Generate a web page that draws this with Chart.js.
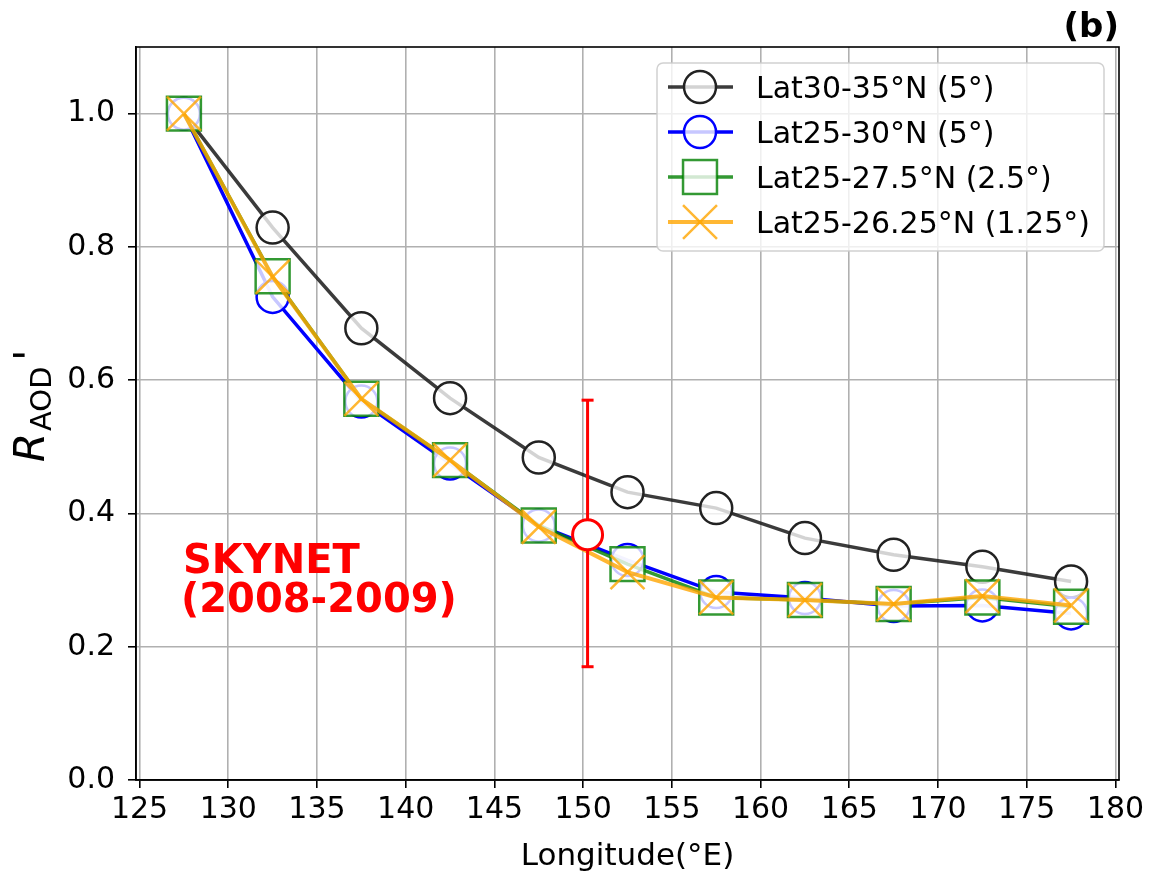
<!DOCTYPE html>
<html>
<head>
<meta charset="utf-8">
<script src="https://cdn.jsdelivr.net/npm/chart.js@4.4.1/dist/chart.umd.min.js"></script>
<style>
  html, body { margin: 0; padding: 0; background: #fff; }
  #wrap { width: 1159px; height: 877px; }
</style>
</head>
<body>
<div id="wrap"><canvas id="c" width="1159" height="877"></canvas></div>
<script>
// ---- data ----
const longitudes = [127.5, 132.5, 137.5, 142.5, 147.5, 152.5, 157.5, 162.5, 167.5, 172.5, 177.5];
const lat30_35   = [1.000, 0.829, 0.678, 0.573, 0.484, 0.432, 0.408, 0.363, 0.338, 0.320, 0.298];
const lat25_30   = [1.000, 0.725, 0.568, 0.475, 0.382, 0.330, 0.282, 0.273, 0.261, 0.262, 0.250];
const lat25_275  = [1.000, 0.756, 0.572, 0.480, 0.382, 0.324, 0.274, 0.270, 0.264, 0.274, 0.260];
const lat25_2625 = [1.000, 0.755, 0.572, 0.480, 0.380, 0.312, 0.274, 0.270, 0.264, 0.276, 0.262];
const seriesLabels = ['Lat30-35°N (5°)', 'Lat25-30°N (5°)', 'Lat25-27.5°N (2.5°)', 'Lat25-26.25°N (1.25°)'];
const skynetX = 150.25;
const skynetY = 0.368;
const skynetRange = [0.170, 0.570];
const skynetText = ['SKYNET', '(2008-2009)'];
const xTicks = [125, 130, 135, 140, 145, 150, 155, 160, 165, 170, 175, 180];
const yTicks = [0.0, 0.2, 0.4, 0.6, 0.8, 1.0];
const xLabel = 'Longitude(°E)';
const panelLabel = '(b)';

const FONT = '"DejaVu Sans", sans-serif';
const pts = arr => longitudes.map((x, i) => ({ x: x, y: arr[i] }));

const styles = [
  { line: 'rgba(25,25,25,0.85)', edge: '#222', shape: 'circle', r: 16, lw: 3.5, ew: 2.5 },
  { line: '#0000ff', edge: '#0000ff', shape: 'circle', r: 16, lw: 3.5, ew: 2.5 },
  { line: 'rgba(0,128,0,0.8)', edge: 'rgba(0,128,0,0.8)', shape: 'rect', r: 24, lw: 3.5, ew: 2.5 },
  { line: 'rgba(255,165,0,0.8)', edge: 'rgba(255,165,0,0.8)', shape: 'crossRot', r: 24, lw: 4, ew: 2.5 }
];
const seriesData = [lat30_35, lat25_30, lat25_275, lat25_2625];

const datasets = seriesData.map((arr, k) => ({
  label: seriesLabels[k],
  data: pts(arr),
  showLine: true,
  borderColor: styles[k].line,
  borderWidth: styles[k].lw,
  backgroundColor: 'rgba(255,255,255,0.8)',
  pointStyle: styles[k].shape,
  pointRadius: styles[k].r,
  pointBorderColor: styles[k].edge,
  pointBorderWidth: styles[k].ew,
  pointBackgroundColor: 'rgba(255,255,255,0.78)',
  tension: 0,
  order: 4 - k + 1
}));

// error bar (vertical line with caps)
datasets.push({
  label: 'SKYNET range',
  data: [{ x: skynetX, y: skynetRange[0] }, { x: skynetX, y: skynetRange[1] }],
  showLine: true,
  borderColor: '#ff0000',
  borderWidth: 3,
  pointStyle: 'line',
  pointRadius: 6,
  pointBorderColor: '#ff0000',
  pointBorderWidth: 3,
  order: 1
});
// SKYNET point
datasets.push({
  label: 'SKYNET',
  data: [{ x: skynetX, y: skynetY }],
  showLine: false,
  pointStyle: 'circle',
  pointRadius: 15,
  pointBorderColor: '#ff0000',
  pointBorderWidth: 3,
  pointBackgroundColor: '#ffffff',
  order: 0
});

const framePlugin = {
  id: 'frame',
  afterDatasetsDraw(chart) {
    const { ctx, chartArea: a } = chart;
    ctx.save();
    // spines
    ctx.strokeStyle = '#000';
    ctx.lineWidth = 1.6;
    ctx.strokeRect(a.left, a.top, a.right - a.left, a.bottom - a.top);

    // SKYNET text
    ctx.fillStyle = '#ff0000';
    ctx.font = 'bold 40px ' + FONT;
    ctx.textBaseline = 'alphabetic';
    ctx.textAlign = 'left';
    ctx.fillText(skynetText[0], 183, 573);
    ctx.fillText(skynetText[1], 181, 612);

    // legend
    const lx = 657, ly = 63, lw = 447, lh = 188, rr = 6;
    ctx.beginPath();
    ctx.moveTo(lx + rr, ly);
    ctx.arcTo(lx + lw, ly, lx + lw, ly + lh, rr);
    ctx.arcTo(lx + lw, ly + lh, lx, ly + lh, rr);
    ctx.arcTo(lx, ly + lh, lx, ly, rr);
    ctx.arcTo(lx, ly, lx + lw, ly, rr);
    ctx.closePath();
    ctx.fillStyle = 'rgba(255,255,255,0.8)';
    ctx.fill();
    ctx.strokeStyle = 'rgba(204,204,204,0.9)';
    ctx.lineWidth = 1.5;
    ctx.stroke();

    for (let k = 0; k < 4; k++) {
      const s = styles[k];
      const cy = 87 + k * 45;
      ctx.strokeStyle = s.line;
      ctx.lineWidth = s.lw;
      ctx.beginPath();
      ctx.moveTo(668, cy);
      ctx.lineTo(733, cy);
      ctx.stroke();
      const cx = 700;
      ctx.strokeStyle = s.edge;
      ctx.lineWidth = s.ew;
      ctx.fillStyle = 'rgba(255,255,255,0.78)';
      if (s.shape === 'circle') {
        ctx.beginPath();
        ctx.arc(cx, cy, s.r, 0, Math.PI * 2);
        ctx.fill();
        ctx.stroke();
      } else if (s.shape === 'rect') {
        const h = s.r * Math.SQRT1_2;
        ctx.fillRect(cx - h, cy - h, 2 * h, 2 * h);
        ctx.strokeRect(cx - h, cy - h, 2 * h, 2 * h);
      } else {
        const h = s.r * Math.SQRT1_2;
        ctx.beginPath();
        ctx.moveTo(cx - h, cy - h); ctx.lineTo(cx + h, cy + h);
        ctx.moveTo(cx - h, cy + h); ctx.lineTo(cx + h, cy - h);
        ctx.stroke();
      }
      ctx.fillStyle = '#000';
      ctx.font = '30px ' + FONT;
      ctx.textAlign = 'left';
      ctx.textBaseline = 'alphabetic';
      ctx.fillText(seriesLabels[k], 756, cy + 11);
    }

    // panel label
    ctx.fillStyle = '#000';
    ctx.font = 'bold 34px ' + FONT;
    ctx.textAlign = 'right';
    ctx.fillText(panelLabel, 1119, 37);

    // y-axis title: R_AOD'
    ctx.translate(44, 462);
    ctx.rotate(-Math.PI / 2);
    ctx.textAlign = 'left';
    ctx.font = 'italic 42px ' + FONT;
    ctx.fillText('R', 0, 0);
    ctx.font = '29px ' + FONT;
    ctx.fillText('AOD', 31, 7);
    ctx.font = '42px ' + FONT;
    ctx.fillText("'", 101, 0);
    ctx.restore();
  }
};

new Chart(document.getElementById('c'), {
  type: 'scatter',
  data: { datasets },
  options: {
    responsive: false,
    animation: false,
    events: [],
    layout: { padding: { left: 0, top: 47, right: 40, bottom: 0 } },
    plugins: { legend: { display: false }, tooltip: { enabled: false }, title: { display: false } },
    scales: {
      x: {
        type: 'linear',
        min: 124.8,
        max: 180.2,
        afterBuildTicks: s => { s.ticks = xTicks.map(v => ({ value: v })); },
        afterFit: s => { s.height = 97; },
        grid: { color: '#b0b0b0', lineWidth: 1.6, drawTicks: true, tickLength: 8, tickColor: '#000', tickWidth: 1.6 },
        border: { display: true, color: '#000', width: 1.6 },
        ticks: { color: '#000', font: { family: FONT, size: 30 }, padding: 4, maxRotation: 0, autoSkip: false },
        title: { display: true, text: xLabel, color: '#000', font: { family: FONT, size: 31 }, padding: { top: 0, bottom: 1 } }
      },
      y: {
        type: 'linear',
        min: 0,
        max: 1.1,
        afterBuildTicks: s => { s.ticks = yTicks.map(v => ({ value: v })); },
        afterFit: s => { s.width = 136; },
        grid: { color: '#b0b0b0', lineWidth: 1.6, drawTicks: true, tickLength: 8, tickColor: '#000', tickWidth: 1.6 },
        border: { display: true, color: '#000', width: 1.6 },
        ticks: { color: '#000', font: { family: FONT, size: 30 }, padding: 13, callback: v => Number(v).toFixed(1) }
      }
    }
  },
  plugins: [framePlugin]
});
</script>
</body>
</html>
